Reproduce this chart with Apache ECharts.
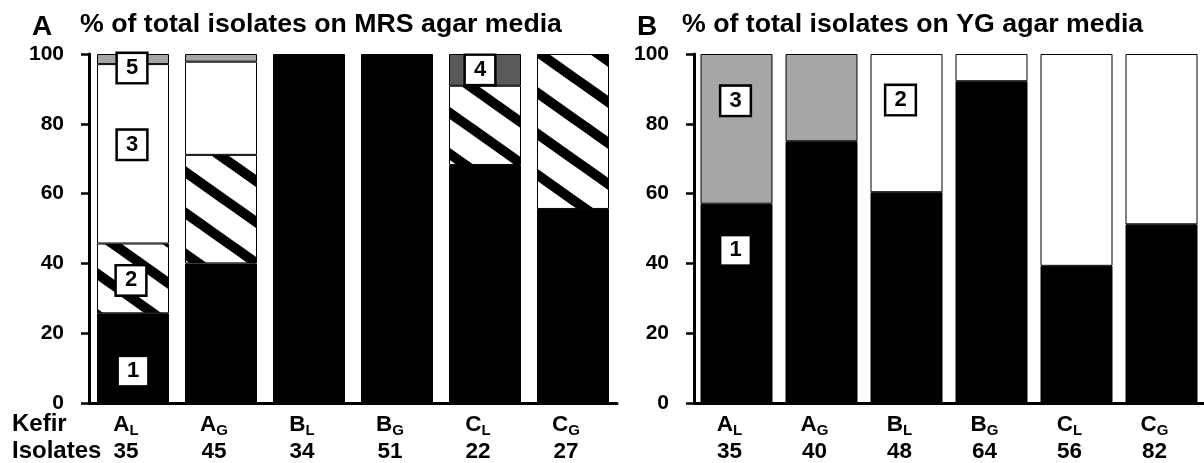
<!DOCTYPE html>
<html><head><meta charset="utf-8">
<script src="https://cdn.jsdelivr.net/npm/echarts@6/dist/echarts.min.js"></script>
<style>html,body{margin:0;padding:0;background:#fff}#c{width:1204px;height:463px}</style>
</head><body><div id="c"></div>
<script>
// ---- data ----
const kefir = ['A','A','B','B','C','C'];
const source = ['L','G','L','G','L','G'];
const mrsIsolates = [35,45,34,51,22,27];
const ygIsolates = [35,40,48,64,56,82];
const mrsGroup1 = [25.7,40.0,100,100,68.2,55.6];
const mrsGroup2 = [20.0,31.1,null,null,22.7,44.4];
const mrsGroup3 = [51.4,26.7,null,null,null,null];
const mrsGroup4 = [null,null,null,null,9.1,null];
const mrsGroup5 = [2.9,2.2,null,null,null,null];
const ygGroup1 = [57.1,75.0,60.4,92.2,39.3,51.2];
const ygGroup2 = [null,null,39.6,7.8,60.7,48.8];
const ygGroup3 = [42.9,25.0,null,null,null,null];
// numbered boxes: [group, category index]
const mrsBoxes = [[1,0],[2,0],[3,0],[5,0],[4,4]];
const ygBoxes = [[1,0],[3,0],[2,2]];
const titleA = '% of total isolates on MRS agar media';
const titleB = '% of total isolates on YG agar media';

// ---- styles ----
const FONT = 'Liberation Sans, Arial, sans-serif';
const boxOffsets = {
  'mrs-1-0':[0,13],'mrs-2-0':[-2,2],'mrs-3-0':[-1,-9],'mrs-5-0':[-1,9],'mrs-4-4':[-5,0],
  'yg-1-0':[-1,-53],'yg-3-0':[-1,-28],'yg-2-2':[-6,-23]
};
function hatch(){
  const W=58,H=41,c=document.createElement('canvas');c.width=W;c.height=H;
  const g=c.getContext('2d');g.fillStyle='#fff';g.fillRect(0,0,W,H);
  g.strokeStyle='#000';g.lineWidth=10;
  for(const dy of [-H,0,H]){g.beginPath();g.moveTo(-W,-H+dy);g.lineTo(2*W,2*H+dy);g.stroke();}
  return c;
}
const hatchFill = {image: hatch(), repeat: 'repeat'};
const cats = kefir.map((k,i)=>k+source[i]);

function makeSeries(prefix, idx, groupNo, values, color, boxes){
  const data = values.map((v,i)=>{
    const has = boxes.some(b=>b[0]===groupNo && b[1]===i);
    if(!has || v===null) return v;
    return {value:v, label:{show:true, formatter:String(groupNo), position:'inside',
      offset: boxOffsets[prefix+'-'+groupNo+'-'+i] || [0,0],
      backgroundColor:'#fff', borderColor:'#000', borderWidth:2.5, padding:[4,8,2,8],
      color:'#000', fontSize:22, fontWeight:'bold', fontFamily:FONT}};
  });
  return {type:'bar', name:prefix+groupNo, stack:prefix, xAxisIndex:idx, yAxisIndex:idx,
    data, barWidth:72, z: 2+groupNo,
    itemStyle:{color, borderColor:'#000', borderWidth:1},
    emphasis:{disabled:true}, animation:false};
}

function xAxis(idx, isolates){
  return {type:'category', gridIndex:idx, data:cats, boundaryGap:true,
    axisLine:{lineStyle:{color:'#000', width:3}},
    axisTick:{alignWithLabel:true, length:5, lineStyle:{color:'#000', width:2.5}},
    axisLabel:{interval:0, margin:8, padding:[0,14,0,0], color:'#000',
      formatter:(v,i)=>'{m|'+kefir[i]+'}{s|'+source[i]+'}\n{m|'+isolates[i]+'}',
      rich:{m:{fontSize:22.5, fontWeight:'bold', fontFamily:FONT, color:'#000', lineHeight:27},
            s:{fontSize:15, fontWeight:'bold', fontFamily:FONT, color:'#000', verticalAlign:'bottom', lineHeight:27}}}};
}
function yAxis(idx){
  return {type:'value', gridIndex:idx, min:0, max:100, interval:20,
    axisLine:{show:true, lineStyle:{color:'#000', width:3}},
    axisTick:{show:true, length:8, lineStyle:{color:'#000', width:2.5}},
    splitLine:{show:false},
    axisLabel:{color:'#000', fontSize:21, fontWeight:'bold', fontFamily:FONT, margin:25}};
}
function txt(x,y,text,size){
  return {type:'text', x, y, silent:true,
    style:{text, fill:'#000', font:'bold '+size+'px '+FONT, verticalAlign:'middle', align:'left'}};
}

const chart = echarts.init(document.getElementById('c'), null, {renderer:'canvas'});
chart.setOption({
  animation:false,
  grid:[{left:89, top:54, width:528, height:349},{left:694, top:54, width:528, height:349}],
  xAxis:[xAxis(0, mrsIsolates), xAxis(1, ygIsolates)],
  yAxis:[yAxis(0), yAxis(1)],
  series:[
    makeSeries('mrs',0,1,mrsGroup1,'#000',mrsBoxes),
    makeSeries('mrs',0,2,mrsGroup2,hatchFill,mrsBoxes),
    makeSeries('mrs',0,3,mrsGroup3,'#fff',mrsBoxes),
    makeSeries('mrs',0,4,mrsGroup4,'#595959',mrsBoxes),
    makeSeries('mrs',0,5,mrsGroup5,'#a6a6a6',mrsBoxes),
    makeSeries('yg',1,1,ygGroup1,'#000',ygBoxes),
    makeSeries('yg',1,2,ygGroup2,'#fff',ygBoxes),
    makeSeries('yg',1,3,ygGroup3,'#a6a6a6',ygBoxes)
  ],
  graphic:[
    txt(32,27,'A',28), txt(80,25,titleA,26.7),
    txt(637,27,'B',28), txt(682,25,titleB,26.7),
    txt(12,424,'Kefir',24), txt(12,451,'Isolates',24)
  ]
});
</script></body></html>
